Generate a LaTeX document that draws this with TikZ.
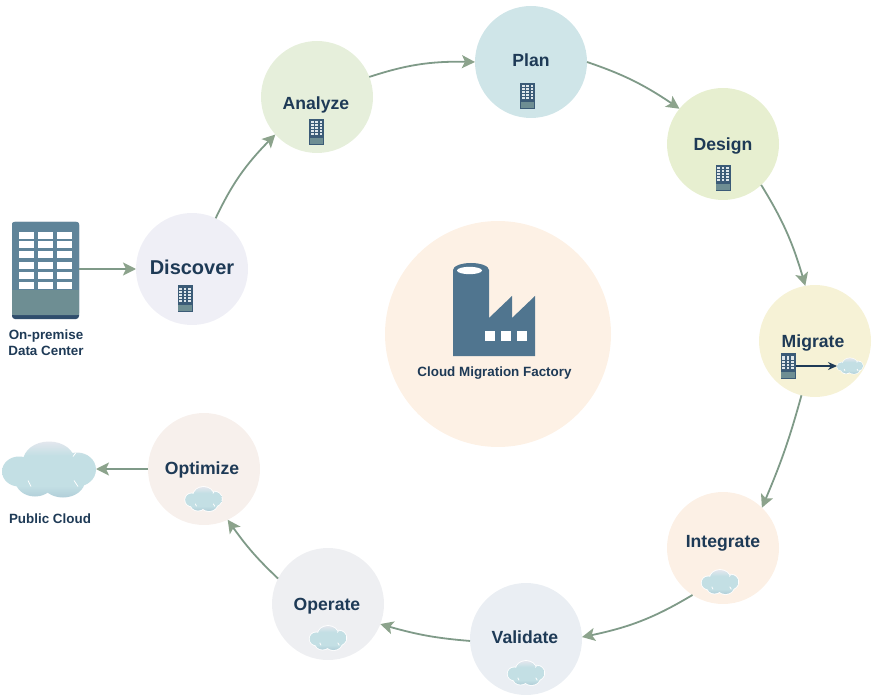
\documentclass[tikz,border=0pt]{standalone}
\usepackage{fontspec}
\setmainfont{Liberation Sans}
\usetikzlibrary{arrows.meta,bending}
\definecolor{ink}{HTML}{1E3A56}
\definecolor{steel}{HTML}{50758F}
\definecolor{bldg}{HTML}{5F8499}
\definecolor{bldglow}{HTML}{6E8E93}
\definecolor{bldgdark}{HTML}{2F4D6C}
\definecolor{flow}{HTML}{7F9A88}
\definecolor{tipc}{HTML}{8CA38C}
\definecolor{cfactory}{HTML}{FDF1E5}
\definecolor{cdiscover}{HTML}{EFEFF6}
\definecolor{canalyze}{HTML}{E6EFDB}
\definecolor{cplan}{HTML}{CFE5E8}
\definecolor{cdesign}{HTML}{E7EFD0}
\definecolor{cmigrate}{HTML}{F6F2D6}
\definecolor{cintegrate}{HTML}{FCF0E5}
\definecolor{cvalidate}{HTML}{EAEEF3}
\definecolor{coperate}{HTML}{EEEFF2}
\definecolor{coptimize}{HTML}{F7F0EC}
\definecolor{cmid}{HTML}{C3DFE4}
\definecolor{ctop}{HTML}{E8E8EF}
\definecolor{cbot}{HTML}{8FAFC4}
\definecolor{clow}{HTML}{AAC8D4}
\pgfdeclareverticalshading{cloudshade}{100bp}{
  color(0bp)=(cbot);
  color(22bp)=(clow);
  color(36bp)=(cmid);
  color(62bp)=(cmid);
  color(76bp)=(ctop);
  color(100bp)=(ctop)}
\tikzset{
  stage/.style={circle,minimum size=112pt,inner sep=0pt,outer sep=0pt,fill=#1},
  big/.style={font=\bfseries\fontsize{20}{22}\selectfont,text=ink,inner sep=0pt,anchor=base},
  mid/.style={font=\bfseries\fontsize{17.6}{20}\selectfont,text=ink,inner sep=0pt,anchor=base},
  small/.style={font=\bfseries\fontsize{13.4}{16}\selectfont,text=ink,inner sep=0pt,align=center},
  flowline/.style={draw=flow,line width=1.8pt,-{Stealth[length=13pt,width=13pt,inset=3pt,color=tipc,flex]}},
  buildingicon/.pic={
    \fill[bldgdark,rounded corners=3pt] (-33.5,-48.5) rectangle (33.5,48.5);
    \fill[bldg,rounded corners=2pt] (-33.5,-48.5) rectangle (33.5,44.5);
    \fill[bldglow] (-33.5,20) rectangle (33.5,44.5);
    \foreach \wy in {-38,-29,-19,-8,2,12}
      \foreach \wx in {-26.5,-7.5,11.5}
        \fill[white] (\wx,\wy) rectangle ++(15,6.5);
  },
  tinybuilding/.pic={
    \fill[bldgdark!75!bldg] (-7.5,-13) rectangle (7.5,13);
    \fill[bldglow] (-6.8,6) rectangle (6.8,12);
    \foreach \wy in {-10.5,-7.6,-4.7,-1.8,1.1}
      \foreach \wx in {-5.6,-1.3,3}
        \fill[white!80!bldg] (\wx,\wy) rectangle ++(2.7,2);
  },
  cloudicon/.pic={
    \fill[white] (0,-8) ellipse [x radius=28,y radius=22]
      (-30,2) ellipse [x radius=19,y radius=17]
      (28,0) ellipse [x radius=21,y radius=19]
      (-14,10) ellipse [x radius=22,y radius=19]
      (14,11) ellipse [x radius=24,y radius=19];
    \begin{scope}
      \clip (0,-8) ellipse [x radius=26,y radius=20]
        (-30,2) ellipse [x radius=17,y radius=15]
        (28,0) ellipse [x radius=19,y radius=17]
        (-14,10) ellipse [x radius=20,y radius=17]
        (14,11) ellipse [x radius=22,y radius=17];
      \shade[shading=cloudshade] (-50,-29) rectangle (50,29);
      \draw[white,line width=.8pt] (-18,17) -- (-21,11) (29,17) -- (25,11) (27,-17) -- (24,-13);
    \end{scope}
  }
}
\begin{document}
\begin{tikzpicture}[x=1pt,y=-1pt]
\useasboundingbox (0,0) rectangle (877,700);
% circles
\node[stage=cfactory,minimum size=226pt] (factory) at (498,334) {};
\node[stage=cdiscover] (discover) at (192,269) {};
\node[stage=canalyze] (analyze) at (317,97) {};
\node[stage=cplan] (plan) at (531,62) {};
\node[stage=cdesign] (design) at (723,144) {};
\node[stage=cmigrate] (migrate) at (815,341) {};
\node[stage=cintegrate] (integrate) at (723,548) {};
\node[stage=cvalidate] (validate) at (526,639) {};
\node[stage=coperate] (operate) at (328,604) {};
\node[stage=coptimize] (optimize) at (204,469) {};
% labels
\node[big] (tdiscover) at (192,275) {Discover};
\node[mid] (tanalyze) at (316,110) {Analyze};
\node[mid] (tplan) at (531,67) {Plan};
\node[mid] (tdesign) at (723,151) {Design};
\node[mid] (tmigrate) at (813,347) {Migrate};
\node[mid] (tintegrate) at (723,547) {Integrate};
\node[mid] (tvalidate) at (525,643) {Validate};
\node[mid] (toperate) at (327,610) {Operate};
\node[mid] (toptimize) at (202,474) {Optimize};
\node[small,anchor=base] (tfactory) at (494.5,376) {Cloud Migration Factory};
\node[small] (tdc) at (46,343) {On-premise\\Data Center};
\node[small,anchor=base] (tcloud) at (50,523) {Public Cloud};
% factory icon
\fill[steel] (453,270) arc [start angle=180,end angle=360,x radius=18,y radius=7] -- (489,318) -- (512,296) -- (512,318) -- (535,296) -- (535,356) -- (453,356) -- cycle;
\fill[white] (469.5,270.5) ellipse [x radius=12.5,y radius=3.7];
\foreach \wx in {485,501,517}
  \fill[white] (\wx,331) rectangle ++(9.5,10);
% building icons
\node[inner sep=0pt,outer sep=0pt,minimum width=67pt,minimum height=97pt] (dc) at (45.5,270.5) {};
\pic at (dc) {buildingicon};
\pic at (185,298.5) {tinybuilding};
\pic at (316.5,132) {tinybuilding};
\pic at (527.5,96) {tinybuilding};
\pic at (723,178) {tinybuilding};
\node[inner sep=0pt,outer sep=0pt,minimum width=15pt,minimum height=26pt] (migb) at (788,366) {};
\pic at (migb) {tinybuilding};
% cloud icons
\node[inner sep=0pt,outer sep=0pt,minimum width=94pt,minimum height=55pt] (pubcloud) at (49,469.5) {};
\pic at (pubcloud) {cloudicon};
\pic[xscale=.39,yscale=.43] at (203.5,499) {cloudicon};
\pic[xscale=.39,yscale=.43] at (720,582) {cloudicon};
\pic[xscale=.39,yscale=.43] at (526,673) {cloudicon};
\pic[xscale=.39,yscale=.43] at (328,638) {cloudicon};
\node[inner sep=0pt,outer sep=0pt,minimum width=26pt,minimum height=15pt] (migc) at (850,366) {};
\pic[xscale=.28,yscale=.28] at (migc) {cloudicon};
% connectors
\draw[flowline] (dc.east |- discover.west) -- (discover.west);
\draw[flowline] (discover.65) to[bend left=10] (analyze.222);
\draw[flowline] (analyze.21) to[bend left=10] (plan.180);
\draw[flowline] (plan.0) to[bend left=8] (design.141);
\draw[flowline] (design.-47) to[bend left=8] (migrate.100);
\draw[flowline] (migrate.-104) to[bend left=4] (integrate.46);
\draw[flowline] (integrate.-123) to[bend left=10] (validate.2);
\draw[flowline] (validate.182) to[bend left=6] (operate.-21);
\draw[flowline] (operate.153) to[bend left=6] (optimize.-65);
\draw[flowline] (optimize.west) -- (pubcloud.east |- optimize.west);
\draw[ink,line width=1.1pt,-{Stealth[length=9pt,width=8pt]}] (migb.east) -- (migc.west);
\end{tikzpicture}
\end{document}
